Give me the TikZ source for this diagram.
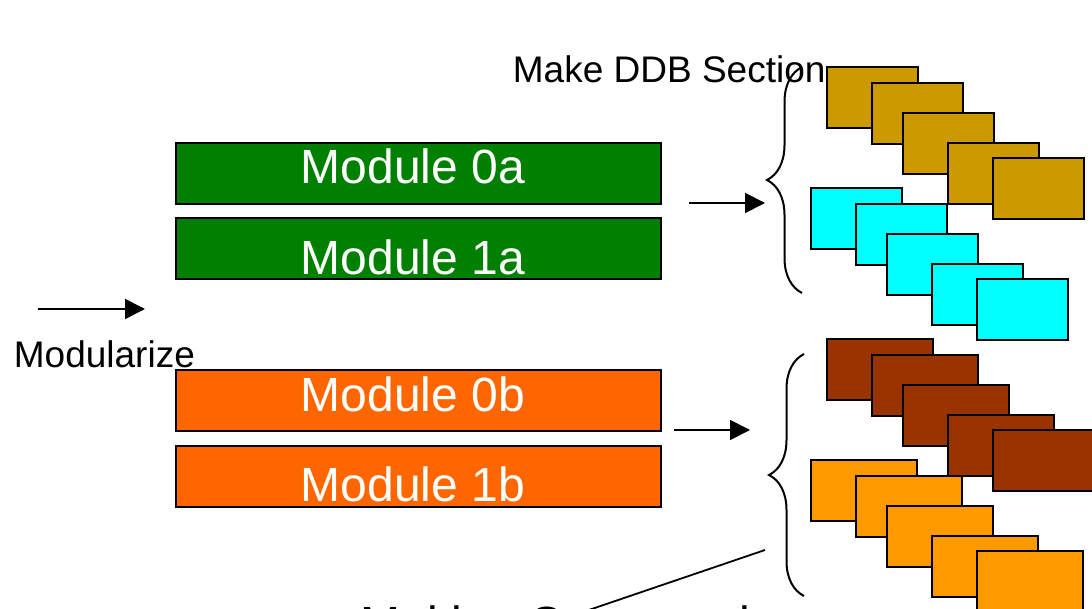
\documentclass[tikz,border=0pt]{standalone}
\usepackage{fontspec}
\setmainfont{Liberation Sans}
\usetikzlibrary{arrows.meta, positioning, decorations.pathreplacing}
\definecolor{modgreen}{HTML}{008000}
\definecolor{modorange}{HTML}{FF6600}
\definecolor{ddbgold}{HTML}{CC9900}
\definecolor{ddbcyan}{HTML}{00FFFF}
\definecolor{cmdbrown}{HTML}{993300}
\definecolor{cmdorange}{HTML}{FF9900}
\tikzset {
    x=1pt, y=-1pt,
    >={Triangle[length=20pt, width=20pt]},
    every picture/.style={line width=1.8pt},
    module/.style={draw, line width=2pt, minimum width=485pt, minimum height=61pt, inner sep=0pt, anchor=north west},
    modtext/.style={text=white, font=\fontsize{48}{48}\selectfont, anchor=base west, inner sep=0pt},
    sheet/.style={draw, line width=2pt, minimum width=91pt, minimum height=61pt, inner sep=0pt, anchor=north west},
    widesheet/.style={sheet, minimum width=106pt},
    bigbrace/.style={decorate, line width=2pt, decoration={brace, amplitude=35pt}},
    caption/.style={font=\fontsize{37}{37}\selectfont, anchor=base west, inner sep=0pt}
}
\begin{document}
\begin{tikzpicture}
    \useasboundingbox (0,0) rectangle (1092,609);
    \clip (0,0) rectangle (1092,609);

    % modules
    \node[module, fill=modgreen] (m0a) at (175,142) {};
    \node[module, fill=modgreen] (m1a) at (175,217) {};
    \node[module, fill=modorange] (m0b) at (175,369) {};
    \node[module, fill=modorange] (m1b) at (175,445) {};
    \node[modtext] at (300,184) {Module 0a};
    \node[modtext] at (300,275) {Module 1a};
    \node[modtext] at (300,411) {Module 0b};
    \node[modtext] at (300,501) {Module 1b};

    % stacked sections
    \foreach \dx/\dy [count=\i] in {0/0, 45/16, 76/46, 121/76, 166/91} {
        \node[sheet, fill=ddbgold] (gold\i) at (826+\dx, 66+\dy) {};
    }
    \foreach \dx/\dy [count=\i] in {0/0, 45/16, 76/46, 121/76, 166/91} {
        \node[sheet, fill=ddbcyan] (cyan\i) at (810+\dx, 187+\dy) {};
    }
    \foreach \dx/\dy [count=\i] in {0/0, 45/16, 76/46, 121/76, 166/91} {
        \node[widesheet, fill=cmdbrown] (brown\i) at (826+\dx, 338+\dy) {};
    }
    \foreach \dx/\dy [count=\i] in {0/0, 45/16, 76/46, 121/76, 166/91} {
        \node[widesheet, fill=cmdorange] (orange\i) at (810+\dx, 459+\dy) {};
    }

    % braces
    \coordinate (ddbtop) at (802,67);
    \coordinate (ddbbot) at (802,293);
    \coordinate (cmdtop) at (804,354);
    \coordinate (cmdbot) at (804,596);
    \draw[bigbrace] (ddbbot) -- (ddbtop);
    \draw[bigbrace] (cmdbot) -- (cmdtop);

    % arrows
    \coordinate (modA) at (38,309);
    \coordinate (modB) at (145,309);
    \coordinate (ddbA) at (689,203);
    \coordinate (ddbB) at (765,203);
    \coordinate (cmdA) at (674,430);
    \coordinate (cmdB) at (750,430);
    \draw[->] (modA) -- (modB);
    \draw[->] (ddbA) -- (ddbB);
    \draw[->] (cmdA) -- (cmdB);

    % labels
    \node[caption] (modlabel) at (13,368) {Modularize};
    \node[caption] (ddblabel) at (512,83) {Make DDB Section};
    \node[modtext, text=black] (cmdlabel) at (360,640) {Making Commands};
    \coordinate (cmdpoint) at (765,550);
    \coordinate (cmdend) at (580,613);
    \draw (cmdpoint) -- (cmdend);
\end{tikzpicture}
\end{document}
